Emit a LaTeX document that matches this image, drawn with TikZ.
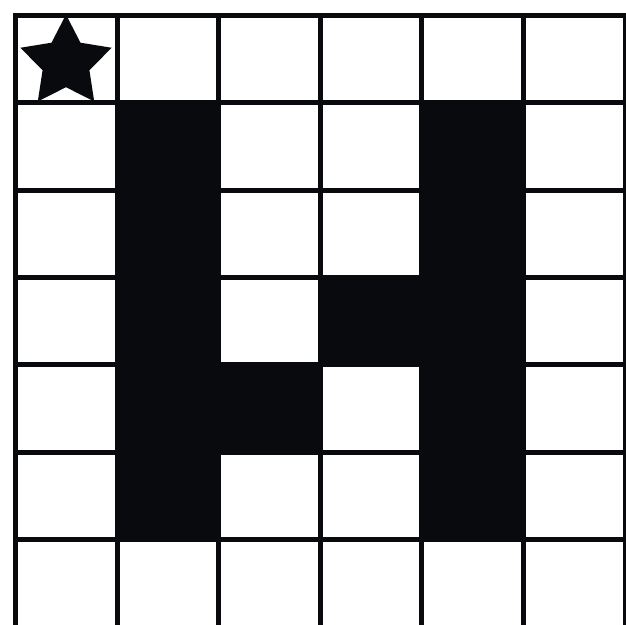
\documentclass[tikz,border=0pt]{standalone}
\usetikzlibrary{shapes.geometric}
\definecolor{ink}{RGB}{9,10,14}

\begin{document}
\begin{tikzpicture}[x=1pt, y=-1pt]

\useasboundingbox (0, 0) rectangle (626, 624);
\clip (0, 0) rectangle (626, 624);

% The black cells
\foreach \c/\r in {1/1, 4/1, 1/2, 4/2, 1/3, 3/3, 4/3, 1/4, 2/4, 4/4, 1/5, 4/5}
  \fill[ink] (15.5 + 101.6 * \c, 15.5 + 87.33 * \r) rectangle ++(101.6, 87.33);

% The grid
\foreach \c in {0,...,6}
  \draw[ink, line width=5pt, line cap=rect] (15.5 + 101.6 * \c, 15.5) -- (15.5 + 101.6 * \c, 640);
\foreach \r in {0,...,6}
  \draw[ink, line width=5pt, line cap=rect] (15.5, 15.5 + 87.33 * \r) -- (640, 15.5 + 87.33 * \r);

% The star
\node[star, star points=5, star point ratio=1.95, fill=ink, minimum size=96pt, inner sep=0pt] (start) at (66, 62.6) {};

\end{tikzpicture}
\end{document}
